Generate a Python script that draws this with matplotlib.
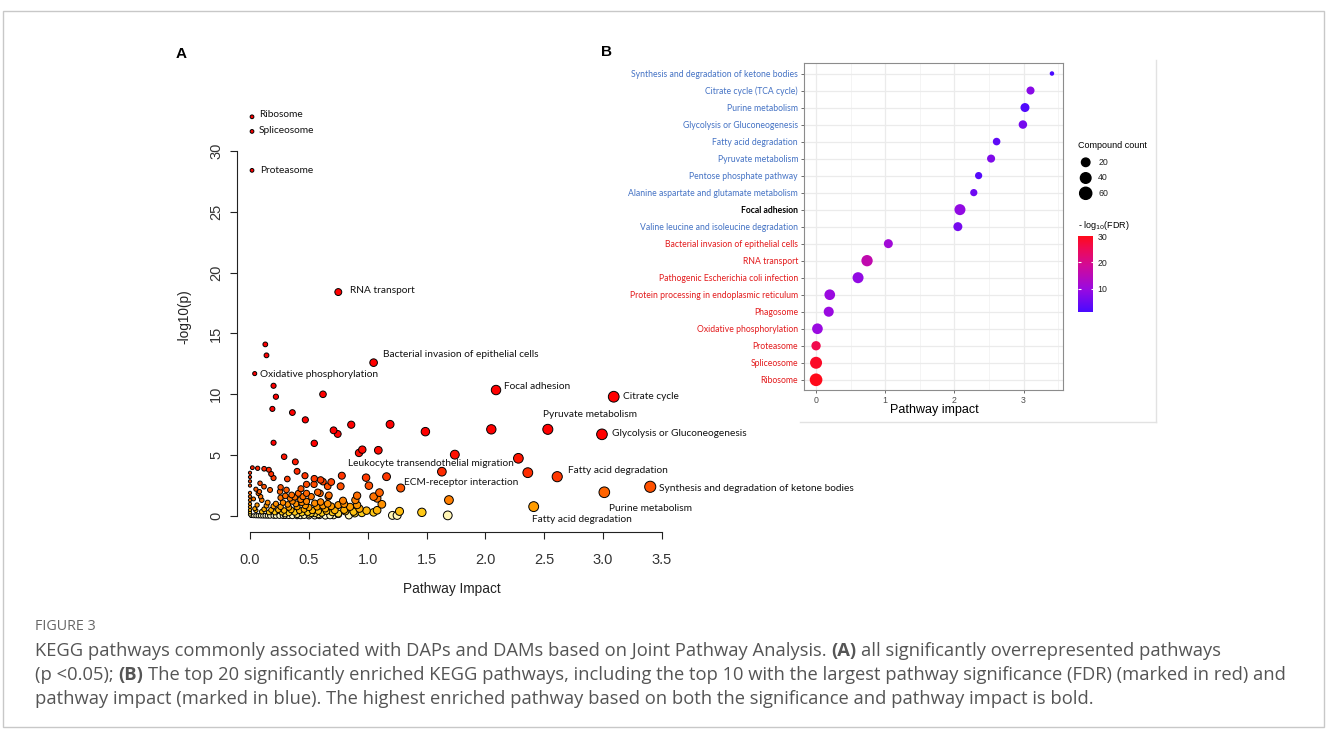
import numpy as np
import matplotlib
matplotlib.use("Agg")
import matplotlib.pyplot as plt
from matplotlib.colors import LinearSegmentedColormap, Normalize, PowerNorm
from matplotlib.cm import ScalarMappable
from matplotlib.patches import Rectangle

W, H = 1328, 730
fig = plt.figure(figsize=(W / 100, H / 100), dpi=100)


def box(l, t, r, b):
    return [l / W, 1 - b / H, (r - l) / W, (b - t) / H]


# ---------------- Panel A data ----------------
labeled_names = ["Ribosome", "Spliceosome", "Proteasome", "RNA transport",
                 "Bacterial invasion of epithelial cells", "Oxidative phosphorylation",
                 "Focal adhesion", "Citrate cycle", "Pyruvate metabolism",
                 "Glycolysis or Gluconeogenesis", "Leukocyte transendothelial migration",
                 "ECM-receptor interaction", "Fatty acid degradation",
                 "Synthesis and degradation of ketone bodies", "Purine metabolism",
                 "Fatty acid degradation"]
labeled_impact = [0.017, 0.017, 0.017, 0.75, 1.05, 0.04, 2.09, 3.09, 2.53, 2.99,
                  2.28, 1.28, 2.61, 3.40, 3.01, 2.41]
labeled_logp = [32.8, 31.6, 28.4, 18.4, 12.6, 11.7, 10.35, 9.8, 7.12, 6.71,
                4.74, 2.3, 3.23, 2.4, 1.95, 0.77]

other_impact = [
    0.13, 0.14, 0.20, 0.22, 0.19, 0.62, 0.36, 0.47, 0.86, 1.19, 0.71, 0.745, 1.49, 2.05,
    0.20, 0.546, 0.926, 0.954, 1.09, 1.74, 2.36, 1.63, 0.29, 0.385, 1.69, 1.68, 1.46,
    1.27, 1.21, 1.25, 1.16, 0.986, 1.01, 1.10, 1.05, 1.08, 1.12, 1.08, 0.99, 0.91, 0.91,
    0.895, 0.89, 0.81, 0.84, 0.79, 0.80, 0.78, 0.77, 0.69, 0.66, 0.67, 0.72, 0.71, 0.68,
    0.64, 0.59, 0.52, 0.46, 0.62, 0.60, 0.546, 0.544, 0.575, 0.467, 0.48, 0.433, 0.40,
    0.317, 0.26,
    0.02, 0.065, 0.12, 0.16, 0.18, 0.20, 0.085, 0.119, 0.05, 0.03, 0.04, 0.08,
    0.0, 0.0, 0.0, 0.0, 0.0, 0.0, 0.0, 0.0, 0.0, 0.0, 0.0, 0.0,
    0.07, 0.09, 0.17, 0.255, 0.31, 0.354, 0.41, 0.45, 0.48, 0.52, 0.595, 0.665, 0.26,
    0.30, 0.34, 0.38, 0.43, 0.36, 0.39, 0.44, 0.48, 0.55, 0.60, 0.66, 0.28, 0.32, 0.22,
    0.15, 0.10, 0.06, 0.14, 0.20, 0.26, 0.33, 0.40, 0.47, 0.50, 0.57, 0.62, 0.69, 0.75,
    0.85, 0.93, 0.12, 0.18, 0.24, 0.29, 0.35, 0.42, 0.46, 0.53, 0.58, 0.65, 0.05, 0.10,
    0.16, 0.21, 0.27, 0.33, 0.38, 0.44, 0.49, 0.55, 0.61, 0.70, 0.75, 0.80, 0.88, 0.95,
    1.05,
    0.01, 0.03, 0.05, 0.07, 0.09, 0.11, 0.13, 0.15, 0.17, 0.20, 0.22, 0.25, 0.28, 0.30,
    0.33, 0.36, 0.40, 0.43, 0.50, 0.55, 0.64,
    0.30, 0.40, 0.50, 0.58, 0.75]
other_logp = [
    14.1, 13.2, 10.7, 9.8, 8.8, 10.0, 8.5, 7.9, 7.5, 7.53, 7.04, 6.74, 6.93, 7.12,
    6.02, 5.97, 5.18, 5.45, 5.4, 5.04, 3.56, 3.64, 4.87, 4.45, 1.31, 0.05, 0.3,
    0.38, 0.05, 0.05, 3.23, 3.15, 2.49, 1.92, 1.59, 1.45, 0.96, 0.47, 0.44, 0.9, 1.67,
    1.31, 0.22, 0.38, 0.05, 1.26, 0.99, 3.31, 2.44, 2.79, 2.44, 1.7, 0.47, 0.05, 0.05,
    0.6, 0.05, 0.22, 0.05, 2.82, 2.96, 3.07, 2.6, 1.95, 3.31, 2.6, 2.24, 3.67,
    3.04, 2.36,
    3.97, 3.92, 3.88, 3.8, 3.45, 3.12, 2.69, 2.41, 2.2, 1.4, 0.6, 2.0,
    3.55, 3.2, 2.85, 2.5, 1.9, 1.6, 1.3, 1.0, 0.75, 0.5, 0.3, 0.12,
    1.86, 1.59, 2.14, 2.0, 2.14, 1.73, 1.86, 1.59, 1.86, 1.59, 1.86, 1.59, 1.5,
    1.65, 1.45, 1.55, 1.35, 1.2, 1.0, 1.1, 1.2, 1.05, 1.15, 1.0, 1.1, 0.95, 1.0,
    1.1, 1.3, 0.9, 0.85, 0.8, 0.75, 0.7, 0.75, 0.85, 0.7, 0.75, 0.85, 0.8, 0.9,
    0.75, 0.6, 0.55, 0.5, 0.5, 0.45, 0.5, 0.45, 0.55, 0.45, 0.4, 0.4, 0.45, 0.35,
    0.3, 0.3, 0.3, 0.25, 0.3, 0.25, 0.3, 0.2, 0.25, 0.3, 0.2, 0.5, 0.35, 0.25,
    0.3,
    0.02, 0.02, 0.02, 0.02, 0.02, 0.02, 0.02, 0.02, 0.02, 0.02, 0.02, 0.02, 0.02, 0.02,
    0.02, 0.02, 0.02, 0.02, 0.02, 0.02, 0.02,
    0.15, 0.12, 0.15, 0.12, 0.15]

# label offsets (pixels) relative to their point, and horizontal alignment
label_style = [(7, 2, "left"), (7, 1, "left"), (8, 0, "left"), (12, 2, "left"),
               (9, 8, "left"), (5, -1, "left"), (8, 4, "left"), (9, 0, "left"),
               (-5, 15, "left"), (10, 1, "left"), (-5, -5, "right"), (3, 6, "left"),
               (11, 6, "left"), (9, -2, "left"), (5, -16, "left"), (-2, -13, "left")]

# ---------------- Panel B data ----------------
b_names = ["Synthesis and degradation of ketone bodies", "Citrate cycle (TCA cycle)",
           "Purine metabolism", "Glycolysis or Gluconeogenesis", "Fatty acid degradation",
           "Pyruvate metabolism", "Pentose phosphate pathway",
           "Alanine aspartate and glutamate metabolism", "Focal adhesion",
           "Valine leucine and isoleucine degradation",
           "Bacterial invasion of epithelial cells", "RNA transport",
           "Pathogenic Escherichia coli infection",
           "Protein processing in endoplasmic reticulum", "Phagosome",
           "Oxidative phosphorylation", "Proteasome", "Spliceosome", "Ribosome"]
b_impact = [3.41, 3.10, 3.02, 2.99, 2.61, 2.53, 2.35, 2.28, 2.08, 2.05,
            1.045, 0.737, 0.607, 0.198, 0.183, 0.02, 0.0, 0.0, 0.0]
b_fdr = [1.3, 8.0, 2.0, 6.0, 3.5, 7.0, 2.5, 5.0, 9.0, 6.0,
         11.0, 16.0, 9.0, 10.0, 10.0, 10.0, 26.0, 29.0, 30.0]
b_count = [5, 17, 24, 20, 14, 17, 12, 12, 45, 24,
           24, 49, 45, 41, 34, 41, 27, 58, 68]
b_group = ["impact"] * 8 + ["both", "impact"] + ["fdr"] * 9
size_legend_counts = [20, 40, 60]
fdr_ticks = [10, 20, 30]

# ---------------- styles ----------------
TXT = "Lato"
AXF = "Liberation Sans"
cmap_a = LinearSegmentedColormap.from_list("heat", [
    (0.0, "#ffffe6"), (0.1, "#fff4b0"), (0.2, "#ffd21e"), (0.3, "#ffaa00"),
    (0.42, "#ff8c00"), (0.55, "#ff6800"), (0.68, "#ff4400"), (0.8, "#ff2600"),
    (0.95, "#ff0a00"), (1.0, "#ff0000")])
norm_a = PowerNorm(gamma=0.5, vmin=0, vmax=6, clip=True)
cmap_b = LinearSegmentedColormap.from_list("bluered", [
    (0.0, "#4a0aff"), (0.3, "#9a0ae0"), (0.6, "#d00a9a"), (0.85, "#f00a50"),
    (1.0, "#ff0a1a")])
norm_b = Normalize(vmin=1.2, vmax=30.1)
col_name = {"impact": "#4472c4", "fdr": "#e31a1c", "both": "black"}


def size_a(x):
    d = 3.2 + 4.3 * np.sqrt(np.asarray(x, float))
    return (d * 0.72) ** 2


def size_b(c):
    d = 4.5 + 8.3 * np.sqrt(np.clip((np.asarray(c, float) - 5) / 65, 0, None))
    return (d * 0.72) ** 2


# ---------------- Panel A ----------------
axA = fig.add_axes(box(237, 102.2, 676, 532))
xa = np.array(other_impact + labeled_impact)
ya = np.array(other_logp + labeled_logp)
order = np.argsort(ya, kind="stable")
axA.scatter(xa[order], ya[order], s=size_a(xa[order]), c=ya[order], cmap=cmap_a,
            norm=norm_a, edgecolors="black", linewidths=0.7, zorder=3, clip_on=False)
for name, x, y, (dx, dy, ha) in zip(labeled_names, labeled_impact, labeled_logp, label_style):
    axA.annotate(name, (x, y), xytext=(dx, dy), textcoords="offset pixels",
                 ha=ha, va="center", fontsize=7.3, family=TXT, color="#111111")
axA.set_xlim(-0.1105, 3.619)
axA.set_ylim(-1.315, 34.0)
for s in ["top", "right"]:
    axA.spines[s].set_visible(False)
axA.spines["left"].set_bounds(0, 30)
axA.spines["bottom"].set_bounds(0, 3.5)
axA.spines["left"].set_color("#222222")
axA.spines["bottom"].set_color("#222222")
axA.set_xticks(np.arange(0, 3.51, 0.5))
axA.set_xticklabels([f"{v:.1f}" for v in np.arange(0, 3.51, 0.5)])
axA.set_yticks(range(0, 31, 5))
axA.tick_params(axis="both", length=5, width=0.8, color="#222222", labelsize=10.5,
                labelcolor="#333333")
axA.tick_params(axis="x", pad=10)
axA.tick_params(axis="y", pad=5)
for t in axA.get_yticklabels():
    t.set_rotation(90)
    t.set_va("center")
for t in axA.get_xticklabels() + axA.get_yticklabels():
    t.set_family(AXF)
axA.patch.set_alpha(0)
fig.text(451.5 / W, 1 - 589 / H, "Pathway Impact", ha="center", va="center",
         fontsize=9.8, family=AXF, color="#222222")
fig.text(184 / W, 1 - 317 / H, "-log10(p)", ha="center", va="center", rotation=90,
         fontsize=9.8, family=AXF, color="#222222")

# ---------------- Panel B ----------------
axB = fig.add_axes(box(804.3, 63.3, 1063.3, 390))
nb = len(b_names)
yb = np.arange(nb)[::-1]
axB.set_xlim(-0.17, 3.574)
axB.set_ylim(-0.6, nb - 1 + 0.6)
axB.set_xticks([0, 1, 2, 3])
axB.set_xticks([0.5, 1.5, 2.5, 3.5], minor=True)
axB.set_yticks(yb)
axB.set_yticklabels(b_names)
axB.grid(which="major", color="#ebebeb", lw=0.9)
axB.grid(which="minor", axis="x", color="#f2f2f2", lw=0.6)
axB.set_axisbelow(True)
axB.scatter(b_impact, yb, s=size_b(b_count), c=b_fdr, cmap=cmap_b, norm=norm_b,
            edgecolors="none", zorder=3)
for sp in axB.spines.values():
    sp.set_color("#8c8c8c")
    sp.set_linewidth(0.8)
axB.tick_params(axis="both", which="major", length=2.5, width=0.6, color="#555555")
axB.tick_params(axis="x", which="minor", length=0)
axB.tick_params(axis="y", labelsize=6.2, pad=2)
axB.tick_params(axis="x", labelsize=6.3, labelcolor="#4d4d4d", pad=1.5)
for t, g in zip(axB.get_yticklabels(), b_group):
    t.set_color(col_name[g])
    t.set_family(TXT)
    if g == "both":
        t.set_fontweight("bold")
for t in axB.get_xticklabels():
    t.set_family(AXF)
fig.text(934 / W, 1 - 410 / H, "Pathway impact", ha="center", va="center",
         fontsize=9, family=AXF, color="black")

# colorbar legend
cax = fig.add_axes(box(1078.3, 236, 1093.3, 311.7))
cb = fig.colorbar(ScalarMappable(norm=norm_b, cmap=cmap_b), cax=cax)
cb.outline.set_visible(False)
cb.set_ticks(fdr_ticks)
cax.tick_params(length=0, labelsize=6.3, pad=3, labelcolor="#222222")
for t in cax.get_yticklabels():
    t.set_family(AXF)
for v in fdr_ticks[:-1]:
    cax.hlines(v, 0, 0.18, color="white", lw=0.8)
    cax.hlines(v, 0.82, 1, color="white", lw=0.8)

# ---------------- overlay ----------------
ov = fig.add_axes([0, 0, 1, 1])
ov.set_xlim(0, W)
ov.set_ylim(H, 0)
ov.axis("off")
ov.add_patch(Rectangle((2.5, 10.5), 1321, 716, fill=False, edgecolor="#c8c8c8", lw=1))
ov.plot([800, 1156], [421.5, 421.5], color="#e2e2e2", lw=1)
ov.plot([1156, 1156], [60, 421.5], color="#e2e2e2", lw=1)
ov.text(181, 54, "A", fontsize=11, fontweight="bold", family=AXF, ha="center", va="center")
ov.text(607, 52, "B", fontsize=11, fontweight="bold", family=AXF, ha="center", va="center")

# size legend
ov.text(1078, 146, "Compound count", fontsize=6.5, family=AXF, ha="left", va="center")
leg_y = [162.3, 178, 193.3]
ov.scatter([1085.7] * 3, leg_y, s=size_b(size_legend_counts), color="black")
for c, yy in zip(size_legend_counts, leg_y):
    ov.text(1098.3, yy, str(c), fontsize=6.3, family=AXF, ha="left", va="center",
            color="#222222")
ov.text(1078, 226, r"- log$_{10}$(FDR)", fontsize=6.5, family=AXF, ha="left", va="center")

# caption
r = fig.canvas.get_renderer()
CAPF = "Open Sans"
CAPC = "#555555"
CAPS = 13.2
ov.text(35, 627, "FIGURE 3", fontsize=10.3, family=CAPF, color="#666666", va="center")

_t1 = ov.text(0, 300, "a a", fontsize=CAPS, family=CAPF)
_t2 = ov.text(0, 300, "aa", fontsize=CAPS, family=CAPF)
sp_w = _t1.get_window_extent(renderer=r).width - _t2.get_window_extent(renderer=r).width
_t1.remove()
_t2.remove()


def runs(x, y, parts, size=CAPS):
    for txt, bold in parts:
        t = ov.text(x, y, txt, fontsize=size, family=CAPF, color=CAPC, va="center",
                    fontweight="bold" if bold else "normal")
        x += t.get_window_extent(renderer=r).width + sp_w


runs(35, 651, [("KEGG pathways commonly associated with DAPs and DAMs based on Joint Pathway Analysis.", False),
               ("(A)", True), ("all significantly overrepresented pathways", False)])
runs(35, 675, [("(p <0.05);", False), ("(B)", True),
               ("The top 20 significantly enriched KEGG pathways, including the top 10 with the largest pathway significance (FDR) (marked in red) and", False)])
runs(35, 699, [("pathway impact (marked in blue). The highest enriched pathway based on both the significance and pathway impact is bold.", False)])

fig.savefig("out.png", dpi=100)
